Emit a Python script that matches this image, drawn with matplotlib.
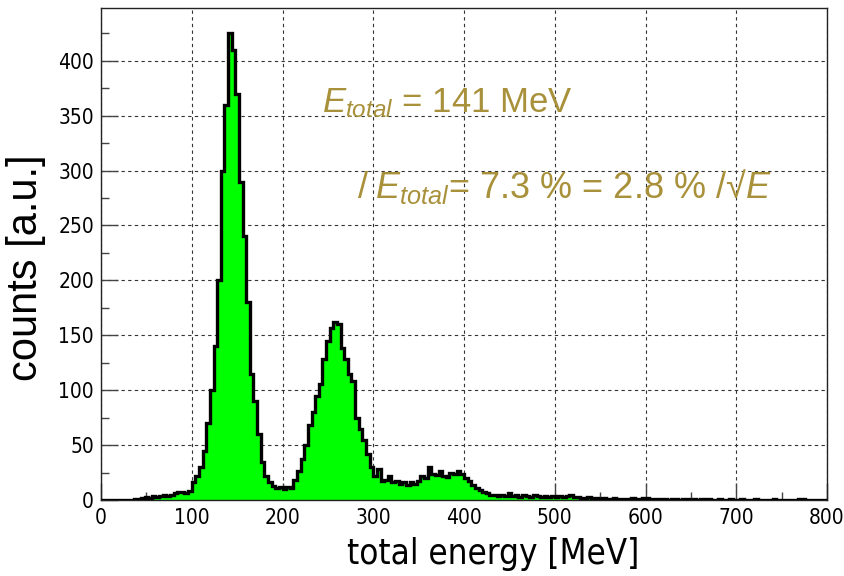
import numpy as np
import matplotlib
matplotlib.use("Agg")
import matplotlib.pyplot as plt
from matplotlib.ticker import MultipleLocator
from matplotlib import font_manager as fm

# ---- data: 4 MeV bins from 0 to 800 MeV ----
bin_width = 4
bin_lo = 0
counts = [
    # 0-32
    0, 0, 0, 0, 0, 0, 0, 0, 0,
    # 36-96
    1, 1, 2, 3, 2, 4, 3, 4, 5, 4, 5, 6, 7, 7, 6, 8,
    # 100-196
    16, 22, 30, 45, 70, 100, 140, 200, 300, 360, 425, 410, 370, 290, 240,
    180, 115, 90, 60, 35, 22, 16, 13, 11, 12,
    # 200-296
    10, 12, 11, 18, 26, 37, 50, 68, 80, 95, 106, 128, 145, 157, 162, 160,
    138, 128, 115, 108, 75, 65, 55, 42, 30,
    # 300-396
    22, 28, 17, 18, 22, 16, 17, 15, 16, 14, 16, 15, 17, 22, 20, 30, 24,
    23, 26, 22, 21, 25, 24, 26, 24,
    # 400-496
    20, 17, 14, 11, 9, 7, 6, 5, 5, 4, 5, 4, 6, 4, 5, 3, 5, 4, 3, 5, 4, 3,
    4, 3, 4,
    # 500-596
    3, 4, 3, 4, 5, 3, 3, 2, 2, 3, 2, 2, 1, 2, 1, 1, 2, 1, 1, 1, 1, 2, 1,
    1, 2,
    # 600-696
    2, 1, 1, 1, 1, 1, 0, 1, 1, 0, 1, 1, 0, 1, 0, 1, 0, 1, 0, 0, 1, 0, 0,
    1, 0,
    # 700-796
    0, 1, 0, 0, 0, 1, 0, 0, 0, 0, 1, 0, 0, 0, 0, 0, 0, 1, 1, 0, 0, 0, 0,
    0, 0,
]
edges = bin_lo + bin_width * np.arange(len(counts) + 1)

x_ticks = [0, 100, 200, 300, 400, 500, 600, 700, 800]
y_ticks = [0, 50, 100, 150, 200, 250, 300, 350, 400]

text_color = "#a8913a"

# condensed font if available
cond_files = [f for f in fm.findSystemFonts() if 'DejaVuSansCondensed.ttf' in f]
if cond_files:
    cond = fm.FontProperties(fname=cond_files[0])
else:
    cond = fm.FontProperties(family='Liberation Sans')

plt.rcParams['mathtext.fontset'] = 'custom'
plt.rcParams['mathtext.rm'] = 'Liberation Sans'
plt.rcParams['mathtext.it'] = 'Liberation Sans:italic'
plt.rcParams['mathtext.bf'] = 'Liberation Sans:bold'

fig = plt.figure(figsize=(8.44, 5.76), dpi=100)
ax = fig.add_axes([101/844, 1-500/576, (827-101)/844, (500-8)/576])

ax.stairs(counts, edges, fill=True, color='#00ff00', zorder=2)
ax.stairs(counts, edges, color='black', linewidth=2.4, zorder=3)

ax.set_xlim(0, 800)
ax.set_ylim(0, 448)
ax.set_xticks(x_ticks)
ax.set_yticks(y_ticks)
ax.xaxis.set_minor_locator(MultipleLocator(50))
ax.yaxis.set_minor_locator(MultipleLocator(25))
ax.tick_params(axis='both', which='major', direction='in', length=12, width=1,
               color='#444444')
ax.tick_params(axis='both', which='minor', direction='in', length=6, width=1,
               color='#444444')
ax.tick_params(axis='x', pad=6)
ax.tick_params(axis='y', pad=5)
for lbl in ax.get_xticklabels() + ax.get_yticklabels():
    lbl.set_fontproperties(cond)
    lbl.set_fontsize(15)
ax.grid(True, which='major', linestyle=(0, (3, 3)), color='#333333', linewidth=0.8, zorder=1)
ax.set_axisbelow(True)
for s in ax.spines.values():
    s.set_linewidth(1.0)
    s.set_color('#222222')

xl = ax.set_xlabel('total energy [MeV]')
xl.set_fontproperties(cond)
xl.set_fontsize(25)
ax.xaxis.set_label_coords((493 - 101) / 726, (500 - 537) / 492)
ax.set_ylabel('counts [a.u.]', fontsize=30, family='Liberation Sans')
ax.yaxis.set_label_coords((46 - 101) / 726, (500 - 268) / 492)

fig.text(322/844, 1-112/576, r'$E_{total}$ = 141 MeV', fontsize=25,
         color=text_color, family='Liberation Sans', va='baseline', ha='left')
fig.text(357/844, 1-198/576, r'$/\;E_{total}$= 7.3 % = 2.8 % /√$E$',
         fontsize=26, color=text_color, family=['Liberation Sans', 'DejaVu Sans'],
         va='baseline', ha='left')

fig.savefig('out.png', dpi=100)
